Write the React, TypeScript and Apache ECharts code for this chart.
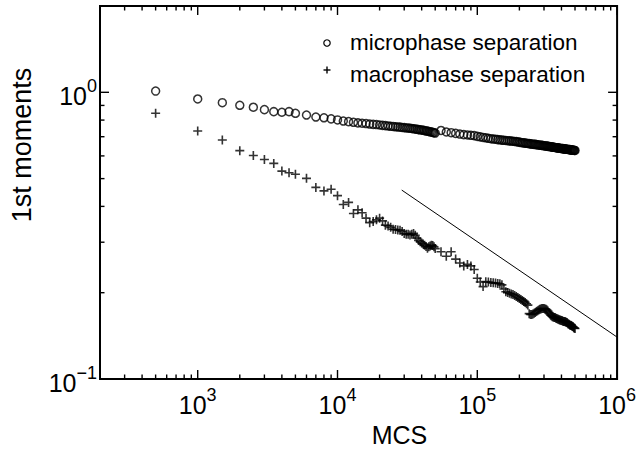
import React, { useEffect, useRef } from 'react';
import * as echarts from 'echarts';

// ---- data ----
const mcs = [
  500, 1000, 1500, 2000, 2500, 3000, 3500, 4000, 4500, 5000,
  6000, 7000, 8000, 9000, 10000, 11000, 12000, 13000, 14000, 15000,
  16000, 17000, 18000, 19000, 20000, 21000, 22000, 23000, 24000, 25000,
  26000, 27000, 28000, 29000, 30000, 31000, 32000, 33000, 34000, 35000,
  36000, 37000, 38000, 39000, 40000, 41000, 42000, 43000, 44000, 45000,
  46000, 47000, 48000, 49000, 50000,
  55000, 60000, 65000, 70000, 75000, 80000, 85000, 90000, 95000, 100000,
  105000, 110000, 115000, 120000, 125000, 130000, 135000, 140000, 145000, 150000,
  155000, 160000, 165000, 170000, 175000, 180000, 185000, 190000, 195000, 200000,
  205000, 210000, 215000, 220000, 225000, 230000, 235000, 240000, 245000, 250000,
  255000, 260000, 265000, 270000, 275000, 280000, 285000, 290000, 295000, 300000,
  305000, 310000, 315000, 320000, 325000, 330000, 335000, 340000, 345000, 350000,
  355000, 360000, 365000, 370000, 375000, 380000, 385000, 390000, 395000, 400000,
  405000, 410000, 415000, 420000, 425000, 430000, 435000, 440000, 445000, 450000,
  455000, 460000, 465000, 470000, 475000, 480000, 485000, 490000, 495000, 500000,
];

const microphase = [
  1.01, 0.948, 0.92, 0.901, 0.887, 0.87, 0.856, 0.852, 0.856, 0.845,
  0.833, 0.82, 0.815, 0.808, 0.801, 0.794, 0.79, 0.786, 0.782, 0.78,
  0.778, 0.775, 0.773, 0.772, 0.769, 0.767, 0.765, 0.763, 0.761, 0.76,
  0.758, 0.757, 0.756, 0.754, 0.753, 0.751, 0.751, 0.749, 0.748, 0.746,
  0.745, 0.743, 0.741, 0.74, 0.739, 0.737, 0.735, 0.733, 0.732, 0.73,
  0.728, 0.727, 0.725, 0.723, 0.721,
  0.736, 0.727, 0.723, 0.719, 0.715, 0.712, 0.71, 0.708, 0.706, 0.702,
  0.699, 0.696, 0.694, 0.691, 0.689, 0.687, 0.686, 0.684, 0.683, 0.681,
  0.68, 0.679, 0.678, 0.677, 0.676, 0.675, 0.674, 0.673, 0.671, 0.67,
  0.668, 0.667, 0.666, 0.665, 0.664, 0.663, 0.662, 0.661, 0.66, 0.659,
  0.658, 0.658, 0.657, 0.656, 0.655, 0.654, 0.654, 0.653, 0.652, 0.651,
  0.65, 0.65, 0.649, 0.648, 0.647, 0.647, 0.646, 0.645, 0.644, 0.643,
  0.643, 0.642, 0.641, 0.641, 0.64, 0.639, 0.639, 0.638, 0.637, 0.637,
  0.636, 0.636, 0.635, 0.635, 0.634, 0.634, 0.633, 0.633, 0.632, 0.632,
  0.631, 0.631, 0.63, 0.63, 0.629, 0.629, 0.628, 0.628, 0.627, 0.627,
];

const macrophase = [
  0.845, 0.733, 0.682, 0.626, 0.602, 0.583, 0.565, 0.531, 0.524, 0.518,
  0.501, 0.466, 0.453, 0.459, 0.436, 0.406, 0.413, 0.378, 0.389, 0.38,
  0.364, 0.351, 0.354, 0.359, 0.364, 0.356, 0.344, 0.342, 0.338, 0.333,
  0.332, 0.331, 0.33, 0.327, 0.322, 0.32, 0.32, 0.318, 0.32, 0.322,
  0.317, 0.31, 0.304, 0.301, 0.298, 0.296, 0.293, 0.29, 0.286, 0.289,
  0.291, 0.293, 0.292, 0.289, 0.285,
  0.278, 0.268, 0.278, 0.262, 0.254, 0.248, 0.251, 0.248, 0.241, 0.2245,
  0.218, 0.21, 0.2185, 0.218, 0.217, 0.2165, 0.216, 0.2155, 0.215, 0.213,
  0.206, 0.2016, 0.2003, 0.199, 0.198, 0.197, 0.1955, 0.194, 0.1925, 0.191,
  0.1895, 0.188, 0.1865, 0.185, 0.183, 0.181, 0.169, 0.168, 0.168, 0.1685,
  0.1695, 0.1705, 0.172, 0.173, 0.174, 0.175, 0.1755, 0.176, 0.176, 0.176,
  0.1755, 0.175, 0.174, 0.1725, 0.1705, 0.1685, 0.167, 0.166, 0.165, 0.1645,
  0.164, 0.164, 0.163, 0.1625, 0.162, 0.1615, 0.161, 0.1605, 0.1603, 0.16,
  0.1595, 0.159, 0.1588, 0.1587, 0.1583, 0.158, 0.1575, 0.157, 0.156, 0.1555,
  0.155, 0.154, 0.154, 0.1537, 0.153, 0.1525, 0.152, 0.151, 0.1505, 0.15,
];

const guideX = [28800, 1000000];
const guideY = [0.456, 0.14];

const xMajorTicks = [1000, 10000, 100000, 1000000];
const xMinorTicks = [
  300, 400, 500, 600, 700, 800, 900,
  2000, 3000, 4000, 5000, 6000, 7000, 8000, 9000,
  20000, 30000, 40000, 50000, 60000, 70000, 80000, 90000,
  200000, 300000, 400000, 500000, 600000, 700000, 800000, 900000,
];
const yMajorTicks = [0.1, 1];
const yMinorTicks = [0.2, 0.3, 0.4, 0.5, 0.6, 0.7, 0.8, 0.9];

const seriesNames = ['microphase separation', 'macrophase separation'];
const xTitle = 'MCS';
const yTitle = '1st moments';

// ---- styling constants ----
const X_MIN = 200;
const X_MAX = 1000000;
const Y_MIN = 0.1;
const Y_MAX = 2;
const FONT = 'Liberation Sans';
const MAJOR_LEN = 9;
const MINOR_LEN = 4.5;
const PLUS_PATH = 'path://M4.1,0H5.9V4.1H10V5.9H5.9V10H4.1V5.9H0V4.1H4.1Z';

function powLabel(v: number): string {
  const l = Math.log10(v);
  const k = Math.round(l);
  if (Math.abs(l - k) > 1e-6) return '';
  const exp = k < 0 ? '\u2212' + String(-k) : String(k);
  return `{b|10}{s|${exp}}`;
}

const richLabel = {
  b: { fontSize: 25, lineHeight: 38, verticalAlign: 'middle', fontFamily: FONT, color: '#000' },
  s: { fontSize: 18, verticalAlign: 'top', fontFamily: FONT, color: '#000' },
};

function xTickSeries(ticks: number[], len: number) {
  return {
    type: 'custom',
    silent: true,
    clip: false,
    z: 10,
    data: ticks.map((v) => [v, Y_MIN]),
    renderItem: (params: any, api: any) => {
      const v = api.value(0);
      const b = api.coord([v, Y_MIN]);
      const t = api.coord([v, Y_MAX]);
      const st = { stroke: '#000', lineWidth: 1.4 };
      return {
        type: 'group',
        children: [
          { type: 'line', shape: { x1: b[0], y1: b[1], x2: b[0], y2: b[1] - len }, style: st },
          { type: 'line', shape: { x1: t[0], y1: t[1], x2: t[0], y2: t[1] + len }, style: st },
        ],
      };
    },
  };
}

function yTickSeries(ticks: number[], len: number) {
  return {
    type: 'custom',
    silent: true,
    clip: false,
    z: 10,
    data: ticks.map((v) => [X_MIN, v]),
    renderItem: (params: any, api: any) => {
      const v = api.value(1);
      const l = api.coord([X_MIN, v]);
      const r = api.coord([X_MAX, v]);
      const st = { stroke: '#000', lineWidth: 1.4 };
      return {
        type: 'group',
        children: [
          { type: 'line', shape: { x1: l[0], y1: l[1], x2: l[0] + len, y2: l[1] }, style: st },
          { type: 'line', shape: { x1: r[0], y1: r[1], x2: r[0] - len, y2: r[1] }, style: st },
        ],
      };
    },
  };
}

export default function App() {
  const ref = useRef<HTMLDivElement>(null);

  useEffect(() => {
    if (!ref.current) return;
    const chart = echarts.init(ref.current, undefined, { renderer: 'svg' });
    const option: any = {
      animation: false,
      backgroundColor: '#fff',
      textStyle: { fontFamily: FONT },
      grid: {
        left: 100,
        right: 17,
        top: 6,
        bottom: 73,
        show: true,
        borderColor: '#000',
        borderWidth: 2,
        backgroundColor: 'transparent',
      },
      xAxis: {
        type: 'log',
        logBase: 10,
        min: X_MIN,
        max: X_MAX,
        axisLine: { show: false },
        axisTick: { show: false },
        splitLine: { show: false },
        axisLabel: { margin: 7, formatter: powLabel, rich: richLabel },
      },
      yAxis: {
        type: 'log',
        logBase: 10,
        min: Y_MIN,
        max: Y_MAX,
        axisLine: { show: false },
        axisTick: { show: false },
        splitLine: { show: false },
        axisLabel: { margin: 3, padding: [8, 0, 0, 0], formatter: powLabel, rich: richLabel },
      },
      series: [
        {
          name: seriesNames[0],
          type: 'scatter',
          symbol: 'circle',
          symbolSize: 8,
          itemStyle: { color: 'rgba(0,0,0,0)', borderColor: '#000', borderWidth: 1.5 },
          data: mcs.map((x, i) => [x, microphase[i]]),
          z: 3,
        },
        {
          name: seriesNames[1],
          type: 'scatter',
          symbol: PLUS_PATH,
          symbolSize: 9,
          itemStyle: { color: '#000' },
          data: mcs.map((x, i) => [x, macrophase[i]]),
          z: 3,
        },
        {
          type: 'line',
          showSymbol: false,
          symbol: 'none',
          lineStyle: { color: '#000', width: 1 },
          data: guideX.map((x, i) => [x, guideY[i]]),
          z: 2,
        },
        xTickSeries(xMajorTicks, MAJOR_LEN),
        xTickSeries(xMinorTicks, MINOR_LEN),
        yTickSeries(yMajorTicks, MAJOR_LEN),
        yTickSeries(yMinorTicks, MINOR_LEN),
      ],
      graphic: [
        {
          type: 'circle',
          shape: { cx: 327, cy: 43, r: 3.2 },
          style: { fill: 'none', stroke: '#000', lineWidth: 1.2 },
        },
        {
          type: 'line',
          shape: { x1: 323.5, y1: 70, x2: 330.5, y2: 70 },
          style: { stroke: '#000', lineWidth: 1.4 },
        },
        {
          type: 'line',
          shape: { x1: 327, y1: 66.5, x2: 327, y2: 73.5 },
          style: { stroke: '#000', lineWidth: 1.4 },
        },
        {
          type: 'text',
          x: 350,
          y: 42,
          style: { text: seriesNames[0], font: `22.5px "${FONT}"`, fill: '#000', align: 'left', verticalAlign: 'middle' },
        },
        {
          type: 'text',
          x: 350,
          y: 74,
          style: { text: seriesNames[1], font: `22.5px "${FONT}"`, fill: '#000', align: 'left', verticalAlign: 'middle' },
        },
        {
          type: 'text',
          x: 399.5,
          y: 435,
          style: { text: xTitle, font: `25px "${FONT}"`, fill: '#000', align: 'center', verticalAlign: 'middle' },
        },
        {
          type: 'text',
          x: 22,
          y: 145,
          rotation: Math.PI / 2,
          style: { text: yTitle, font: `27px "${FONT}"`, fill: '#000', align: 'center', verticalAlign: 'middle' },
        },
      ],
    };
    chart.setOption(option);
    return () => {
      chart.dispose();
    };
  }, []);

  return (
    <div
      ref={ref}
      style={{ position: 'fixed', left: 0, top: 0, width: 639, height: 452, background: '#fff' }}
    />
  );
}
